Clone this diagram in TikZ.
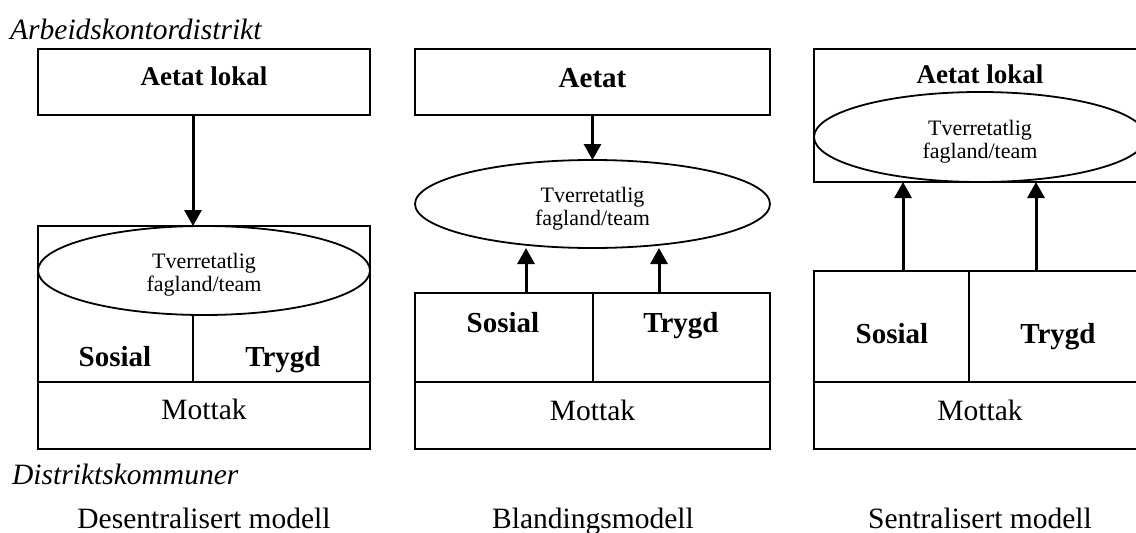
\documentclass[tikz,border=0pt]{standalone}
\usepackage{fontspec}
\setmainfont{Liberation Serif}
\usetikzlibrary{arrows.meta,shapes.geometric}
\begin{document}
\begin{tikzpicture}[x=1pt,y=-1pt,
 box/.style={draw,line width=1.8pt,rectangle,inner sep=0pt,outer sep=0pt},
 oval/.style={draw,line width=1.8pt,ellipse,inner sep=0pt,outer sep=0pt,fill=white},
 arr/.style={line width=3pt,-{Triangle[length=16pt,width=17pt]}},
 rule/.style={line width=1.8pt},
 bold/.style={font=\fontsize{27}{30}\selectfont\bfseries,anchor=base,inner sep=0pt},
 cell/.style={font=\fontsize{29}{32}\selectfont\bfseries,anchor=base,inner sep=0pt},
 reg/.style={font=\fontsize{29.5}{32}\selectfont,anchor=base,inner sep=0pt},
 ital/.style={font=\fontsize{29.5}{32}\selectfont\itshape,anchor=base west,inner sep=0pt},
 small/.style={font=\fontsize{22}{23}\selectfont,anchor=base,inner sep=0pt}]
\useasboundingbox (0,0) rectangle (1136,533);
\clip (0,0) rectangle (1136,533);

% titles
\node[ital] (t1) at (10,39) {Arbeidskontordistrikt};
\node[ital] (t2) at (12,484) {Distriktskommuner};

% ---------- left: Desentralisert modell
\node[box,minimum width=332pt,minimum height=66pt] (aL) at (204,82) {};
\node[bold] (aLt) at (204,85) {Aetat lokal};
\node[box,minimum width=332pt,minimum height=223pt] (lowL) at (204,337.5) {};
\node[oval,minimum width=332pt,minimum height=89pt] (eL) at (204,270.5) {};
\node[small] (eLt1) at (204,268) {Tverretatlig};
\node[small] (eLt2) at (204,291) {fagland/team};
\coordinate (dL) at (193,382);
\draw[rule] (eL.south -| dL) -- (dL);
\draw[rule] (lowL.west |- dL) -- (lowL.east |- dL);
\node[cell] (sL) at (115,366) {Sosial};
\node[cell] (tL) at (283,366) {Trygd};
\node[reg] (mL) at (204,419) {Mottak};
\draw[arr] (aL.south -| dL) -- (lowL.north -| dL);
\node[reg] (mod1) at (204,528) {Desentralisert modell};

% ---------- middle: Blandingsmodell
\node[box,minimum width=355pt,minimum height=66pt] (aM) at (592.5,82) {};
\node[cell] (aMt) at (592.5,87) {Aetat};
\node[oval,minimum width=355pt,minimum height=88pt] (eM) at (592.5,204) {};
\node[small] (eMt1) at (592.5,202) {Tverretatlig};
\node[small] (eMt2) at (592.5,225) {fagland/team};
\node[box,minimum width=355pt,minimum height=156pt] (lowM) at (592.5,371) {};
\coordinate (dM) at (593,382);
\draw[rule] (lowM.north -| dM) -- (dM);
\draw[rule] (lowM.west |- dM) -- (lowM.east |- dM);
\node[cell] (sM) at (503,332) {Sosial};
\node[cell] (tM) at (681,332) {Trygd};
\node[reg] (mM) at (592.5,420) {Mottak};
\draw[arr] (aM.south) -- (eM.north);
\coordinate (uM1) at (526,248);
\coordinate (uM2) at (659,248);
\draw[arr] (lowM.north -| uM1) -- (uM1);
\draw[arr] (lowM.north -| uM2) -- (uM2);
\node[reg] (mod2) at (593,528) {Blandingsmodell};

% ---------- right: Sentralisert modell
\node[box,minimum width=332pt,minimum height=133pt] (aR) at (980,115.5) {};
\node[oval,minimum width=332pt,minimum height=90pt] (eR) at (980,137) {};
\node[bold] (aRt) at (980,83) {Aetat lokal};
\node[small] (eRt1) at (980,135) {Tverretatlig};
\node[small] (eRt2) at (980,158) {fagland/team};
\node[box,minimum width=332pt,minimum height=178pt] (lowR) at (980,360) {};
\coordinate (dR) at (969,382);
\draw[rule] (lowR.north -| dR) -- (dR);
\draw[rule] (lowR.west |- dR) -- (lowR.east |- dR);
\node[cell] (sR) at (892,343) {Sosial};
\node[cell] (tR) at (1058,343) {Trygd};
\node[reg] (mR) at (980,420) {Mottak};
\coordinate (uR1) at (903,0);
\coordinate (uR2) at (1036,0);
\draw[arr] (lowR.north -| uR1) -- (aR.south -| uR1);
\draw[arr] (lowR.north -| uR2) -- (aR.south -| uR2);
\node[reg] (mod3) at (980,528) {Sentralisert modell};
\end{tikzpicture}
\end{document}
